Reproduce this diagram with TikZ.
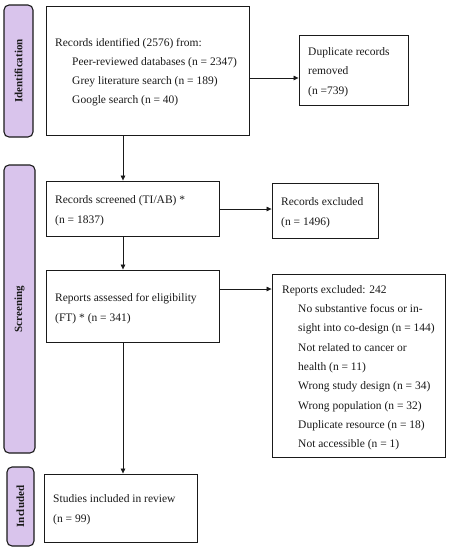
\documentclass[tikz,border=0pt]{standalone}
\usepackage{fontspec}
\setmainfont{Liberation Serif}
\usetikzlibrary{arrows.meta}
\definecolor{side}{HTML}{D9C4EC}
\definecolor{ink}{HTML}{1A1A1A}
\begin{document}
\begin{tikzpicture}[x=1pt,y=-1pt,
  boxrect/.style={draw=ink,line width=0.9pt,fill=white,inner sep=0pt},
  sidebar/.style={draw=ink,line width=1.1pt,fill=side,rounded corners=5pt,inner sep=0pt},
  sidelabel/.style={font=\fontsize{11}{13}\selectfont\bfseries,rotate=90,text=ink},
  txt/.style={anchor=base west,inner sep=0pt,font=\fontsize{11.5}{13}\selectfont,text=ink},
  conn/.style={draw=ink,line width=0.7pt,-{Triangle[length=5pt,width=4.5pt]}}]
\useasboundingbox (0,0) rectangle (449,550);
% sidebars
\node[sidebar,minimum width=29pt,minimum height=132pt] (sid) at (18.5,71) {};
\node[sidelabel] (lid) at (sid.center) {Identification};
\node[sidebar,minimum width=31pt,minimum height=288pt] (ssc) at (19.5,309) {};
\node[sidelabel] (lsc) at (ssc.center) {Screening};
\node[sidebar,minimum width=27pt,minimum height=79pt] (sin) at (20.5,506.5) {};
\node[sidelabel] (lin) at (sin.center) {Included};
% boxes
\node[boxrect,minimum width=203pt,minimum height=129pt] (b1) at (147.5,70.5) {};
\node[txt] (t1a) at (55,46) {Records identified (2576) from:};
\node[txt] (t1b) at (72,65) {Peer-reviewed databases (n = 2347)};
\node[txt] (t1c) at (72,84) {Grey literature search (n = 189)};
\node[txt] (t1d) at (72,103) {Google search (n = 40)};
\node[boxrect,minimum width=109pt,minimum height=70pt] (b2) at (353.5,70) {};
\node[txt] (t2a) at (308,55) {Duplicate records};
\node[txt] (t2b) at (308,74) {removed};
\node[txt] (t2c) at (308,94) {(n =739)};
\node[boxrect,minimum width=173pt,minimum height=55pt] (b3) at (132.5,208.5) {};
\node[txt] (t3a) at (55,203) {Records screened (TI/AB) *};
\node[txt] (t3b) at (55,223) {(n = 1837)};
\node[boxrect,minimum width=106pt,minimum height=55pt] (b4) at (325,210.5) {};
\node[txt] (t4a) at (281,205) {Records excluded};
\node[txt] (t4b) at (281,225) {(n = 1496)};
\node[boxrect,minimum width=173pt,minimum height=72pt] (b5) at (132.5,306) {};
\node[txt] (t5a) at (55,301) {Reports assessed for eligibility};
\node[txt] (t5b) at (55,321) {(FT) * (n = 341)};
\node[boxrect,minimum width=173pt,minimum height=183pt] (b6) at (358.5,365.5) {};
\node[txt] (t6a) at (282,293) {Reports excluded: 242};
\node[txt] (t6b) at (298,312) {No substantive focus or in-};
\node[txt] (t6c) at (298,331.5) {sight into co-design (n = 144)};
\node[txt] (t6d) at (298,351) {Not related to cancer or};
\node[txt] (t6e) at (298,370) {health (n = 11)};
\node[txt] (t6f) at (298,389.5) {Wrong study design (n = 34)};
\node[txt] (t6g) at (298,409) {Wrong population (n = 32)};
\node[txt] (t6h) at (298,428) {Duplicate resource (n = 18)};
\node[txt] (t6i) at (298,447) {Not accessible (n = 1)};
\node[boxrect,minimum width=153pt,minimum height=68pt] (b7) at (120.5,508) {};
\node[txt] (t7a) at (53,502) {Studies included in review};
\node[txt] (t7b) at (53,522) {(n = 99)};
% connectors
\coordinate (y1) at (0,78);
\coordinate (y3) at (0,209);
\coordinate (y5) at (0,289);
\coordinate (xm) at (123,0);
\draw[conn] (b1.east |- y1) -- (b2.west |- y1);
\draw[conn] (b1.south -| xm) -- (b3.north -| xm);
\draw[conn] (b3.east |- y3) -- (b4.west |- y3);
\draw[conn] (b3.south -| xm) -- (b5.north -| xm);
\draw[conn] (b5.east |- y5) -- (b6.west |- y5);
\draw[conn] (b5.south -| xm) -- (b7.north -| xm);
\end{tikzpicture}
\end{document}
